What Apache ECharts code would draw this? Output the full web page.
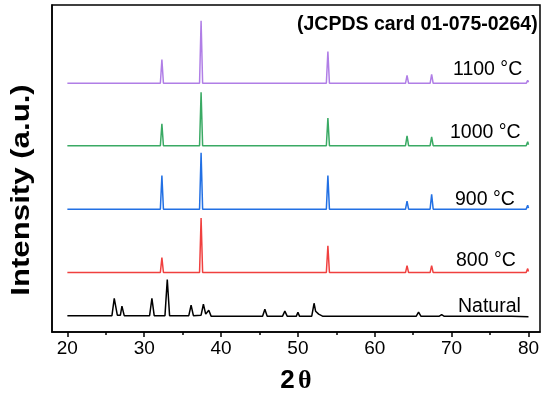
<!DOCTYPE html>
<html>
<head>
<meta charset="utf-8">
<script src="https://cdn.jsdelivr.net/npm/echarts@6/dist/echarts.min.js"></script>
<style>html,body{margin:0;padding:0;background:#fff}#c{width:550px;height:399px}</style>
</head>
<body>
<div id="c"></div>
<script>
// 2θ tick labels
var majorTicks = [20, 30, 40, 50, 60, 70, 80];
var minorTicks = [25, 35, 45, 55, 65, 75];
var seriesNames = ['1100 °C', '1000 °C', '900 °C', '800 °C', 'Natural'];
var seriesColors = ['#b07ee6', '#3aaa64', '#2270e4', '#f0403f', '#000000'];

// [2θ, intensity (a.u., stacked offset)]
var s1100 = [[20,251],[32.1,251],[32.3,275],[32.5,251],[37.2,251],[37.4,314],[37.6,251],[53.7,251],[53.9,283],[54.1,251],[64.0,251],[64.2,259],[64.4,251],[67.2,251],[67.4,260],[67.6,251],[79.7,251],[79.9,254],[80,252]];
var s1000 = [[20,188],[32.1,188],[32.3,210],[32.5,188],[37.2,188],[37.4,242],[37.6,188],[53.7,188],[53.9,216],[54.1,188],[64.0,188],[64.2,198],[64.4,188],[67.2,188],[67.4,197],[67.6,188],[79.7,188],[79.9,192],[80,189]];
var s900 = [[20,124],[32.1,124],[32.3,158],[32.5,124],[37.2,124],[37.4,181],[37.6,124],[53.7,124],[53.9,158],[54.1,124],[64.0,124],[64.2,132],[64.4,124],[67.2,124],[67.4,139],[67.6,124],[79.7,124],[79.9,128],[80,125]];
var s800 = [[20,60],[32.1,60],[32.3,75],[32.5,60],[37.2,60],[37.4,115],[37.6,60],[53.7,60],[53.9,87],[54.1,60],[64.0,60],[64.2,67],[64.4,60],[67.2,60],[67.4,67],[67.6,60],[79.7,60],[79.9,64],[80,61]];
var sNatural = [[20,16.5],[25.8,16.5],[26.1,34],[26.5,17],[26.9,17],[27.1,26],[27.4,16.5],[30.7,16.5],[31.0,34],[31.3,16.5],[32.7,16.5],[33.0,53],[33.3,16.5],[35.8,16.5],[36.1,27],[36.4,16.5],[37.4,17],[37.7,28],[38.0,18],[38.4,22],[38.7,16],[40.8,16],[41.0,18],[41.2,16],[42.5,16],[42.7,18],[42.9,16],[45.4,16],[45.7,23],[46.0,16],[48.0,16],[48.3,21],[48.6,16],[49.8,16],[50.0,20],[50.2,16],[51.8,16],[52.1,29],[52.3,21],[52.5,23],[52.7,18],[52.9,20],[53.2,16],[65.4,16],[65.7,20],[66.0,16],[68.4,16],[68.7,17.5],[69.0,16],[76.4,16],[76.6,17],[76.8,16],[77.4,16],[77.6,17],[77.8,16],[80,15.5]];
var allSeries = [s1100, s1000, s900, s800, sNatural];

var chart = echarts.init(document.getElementById('c'));
var FONT = '"Liberation Sans", Arial, sans-serif';

var labelPos = [[453,70],[450,133],[455,200],[456,261],[458,307]];
var graphics = seriesNames.map(function (n, i) {
  return {type:'text', x: labelPos[i][0], y: labelPos[i][1],
    style:{text:n, font:'19.5px ' + FONT, fill:'#000', align:'left', verticalAlign:'middle'}};
});
graphics.push({type:'text', x:297, y:25,
  style:{text:'(JCPDS card 01-075-0264)', font:'bold 19.5px ' + FONT, fill:'#000', align:'left', verticalAlign:'middle'}});
graphics.push({type:'text', x:22, y:190, rotation:Math.PI/2, scaleX:1.2,
  style:{text:'Intensity (a.u.)', font:'bold 26px ' + FONT, fill:'#000', align:'center', verticalAlign:'middle'}});

chart.setOption({
  animation:false,
  backgroundColor:'#fff',
  grid:{left:52, right:10, top:5, bottom:64, show:true, borderColor:'#000', borderWidth:1.5},
  xAxis:[{
    type:'value', min:18, max:81.5, position:'bottom',
    axisLine:{show:true, lineStyle:{color:'#000', width:1.5}},
    axisTick:{show:true, inside:false, length:5, customValues:majorTicks, lineStyle:{color:'#000', width:1.5}},
    axisLabel:{show:true, customValues:majorTicks, color:'#000', fontSize:19, fontFamily:FONT, margin:7},
    splitLine:{show:false},
    name:'{a|2} {b|θ}', nameLocation:'middle', nameGap:36,
    nameTextStyle:{rich:{
      a:{fontSize:26, fontWeight:'bold', fontFamily:FONT, color:'#000'},
      b:{fontSize:26, fontWeight:'bold', fontFamily:'"Liberation Serif", serif', color:'#000'}
    }}
  },{
    type:'value', min:18, max:81.5, position:'bottom',
    axisLine:{show:false},
    axisTick:{show:true, inside:false, length:3, customValues:minorTicks, lineStyle:{color:'#000', width:1.5}},
    axisLabel:{show:false},
    splitLine:{show:false}
  }],
  yAxis:{type:'value', min:0, max:330,
    axisLine:{show:true, lineStyle:{color:'#000', width:1.5}},
    axisTick:{show:false}, axisLabel:{show:false}, splitLine:{show:false}},
  graphic:graphics,
  series:allSeries.map(function (d, i) {
    return {type:'line', name:seriesNames[i], data:d, showSymbol:false, symbol:'none',
      lineStyle:{color:seriesColors[i], width:1.5}, itemStyle:{color:seriesColors[i]}};
  })
});
</script>
</body>
</html>
